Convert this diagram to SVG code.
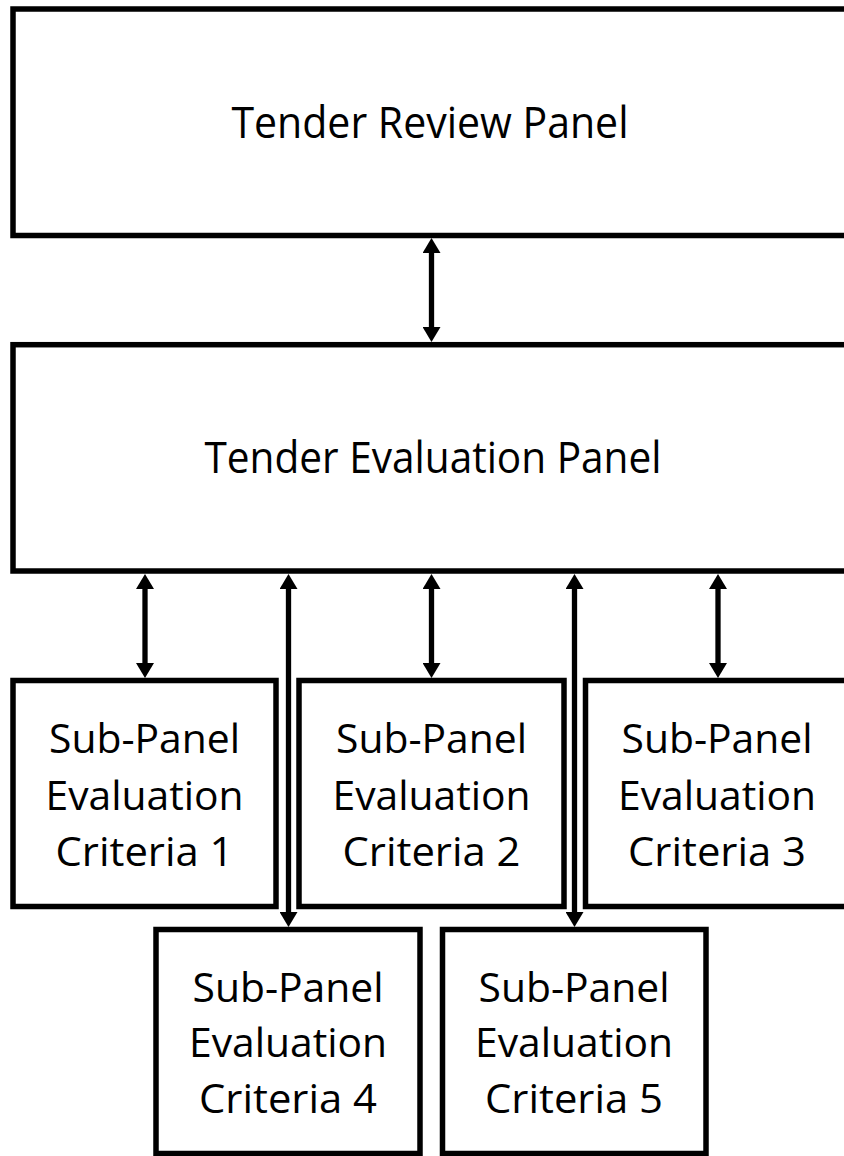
<svg xmlns="http://www.w3.org/2000/svg" width="844" height="1156" viewBox="0 0 844 1156">
<style>
.box{fill:#fff;stroke:#000;stroke-width:5.5}
.t{font-family:"Open Sans","Liberation Sans",sans-serif;fill:#000;text-anchor:middle}
.big{font-size:44px}
.sm{font-size:40px}
.c{stroke:#000;stroke-width:5.3;fill:none;marker-start:url(#ah);marker-end:url(#ah)}
</style>
<defs>
<marker id="ah" markerUnits="userSpaceOnUse" viewBox="0 0 15 18" refX="7" refY="9" markerWidth="15" markerHeight="18" orient="auto-start-reverse">
<path d="M0,0 L15,9 L0,18 z" fill="#000"/>
</marker>
</defs>
<rect width="844" height="1156" fill="#fff"/>
<g id="connectors">
<line class="c" x1="431.5" y1="246" x2="431.5" y2="334"/>
<line class="c" x1="145" y1="582" x2="145" y2="670"/>
<line class="c" x1="431.5" y1="582" x2="431.5" y2="670"/>
<line class="c" x1="718" y1="582" x2="718" y2="670"/>
<line class="c" x1="288.5" y1="582" x2="288.5" y2="919"/>
<line class="c" x1="574.5" y1="582" x2="574.5" y2="919"/>
</g>
<g id="review">
<rect class="box" x="13" y="9" width="836" height="226.5"/>
<text class="t big" x="430" y="138" textLength="397" lengthAdjust="spacingAndGlyphs">Tender Review Panel</text>
</g>
<g id="evaluation">
<rect class="box" x="13" y="344.7" width="836" height="226.3"/>
<text class="t big" x="433" y="473" textLength="457" lengthAdjust="spacingAndGlyphs">Tender Evaluation Panel</text>
</g>
<g id="sub1">
<rect class="box" x="13" y="680.5" width="263" height="226"/>
<text class="t sm" x="144.5" y="753" textLength="191" lengthAdjust="spacingAndGlyphs">Sub-Panel</text>
<text class="t sm" x="144.5" y="809.5" textLength="198" lengthAdjust="spacingAndGlyphs">Evaluation</text>
<text class="t sm" x="144.5" y="865.5" textLength="178" lengthAdjust="spacingAndGlyphs">Criteria 1</text>
</g>
<g id="sub2">
<rect class="box" x="299" y="680.5" width="265" height="226"/>
<text class="t sm" x="431.5" y="753" textLength="191" lengthAdjust="spacingAndGlyphs">Sub-Panel</text>
<text class="t sm" x="431.5" y="809.5" textLength="198" lengthAdjust="spacingAndGlyphs">Evaluation</text>
<text class="t sm" x="431.5" y="865.5" textLength="178" lengthAdjust="spacingAndGlyphs">Criteria 2</text>
</g>
<g id="sub3">
<rect class="box" x="585.5" y="680.5" width="263" height="226"/>
<text class="t sm" x="717" y="753" textLength="191" lengthAdjust="spacingAndGlyphs">Sub-Panel</text>
<text class="t sm" x="717" y="809.5" textLength="198" lengthAdjust="spacingAndGlyphs">Evaluation</text>
<text class="t sm" x="717" y="865.5" textLength="178" lengthAdjust="spacingAndGlyphs">Criteria 3</text>
</g>
<g id="sub4">
<rect class="box" x="156" y="929.5" width="264" height="224"/>
<text class="t sm" x="288" y="1001.5" textLength="191" lengthAdjust="spacingAndGlyphs">Sub-Panel</text>
<text class="t sm" x="288" y="1057" textLength="198" lengthAdjust="spacingAndGlyphs">Evaluation</text>
<text class="t sm" x="288" y="1113" textLength="178" lengthAdjust="spacingAndGlyphs">Criteria 4</text>
</g>
<g id="sub5">
<rect class="box" x="442.5" y="929.5" width="263.5" height="224"/>
<text class="t sm" x="574" y="1001.5" textLength="191" lengthAdjust="spacingAndGlyphs">Sub-Panel</text>
<text class="t sm" x="574" y="1057" textLength="198" lengthAdjust="spacingAndGlyphs">Evaluation</text>
<text class="t sm" x="574" y="1113" textLength="178" lengthAdjust="spacingAndGlyphs">Criteria 5</text>
</g>
</svg>
